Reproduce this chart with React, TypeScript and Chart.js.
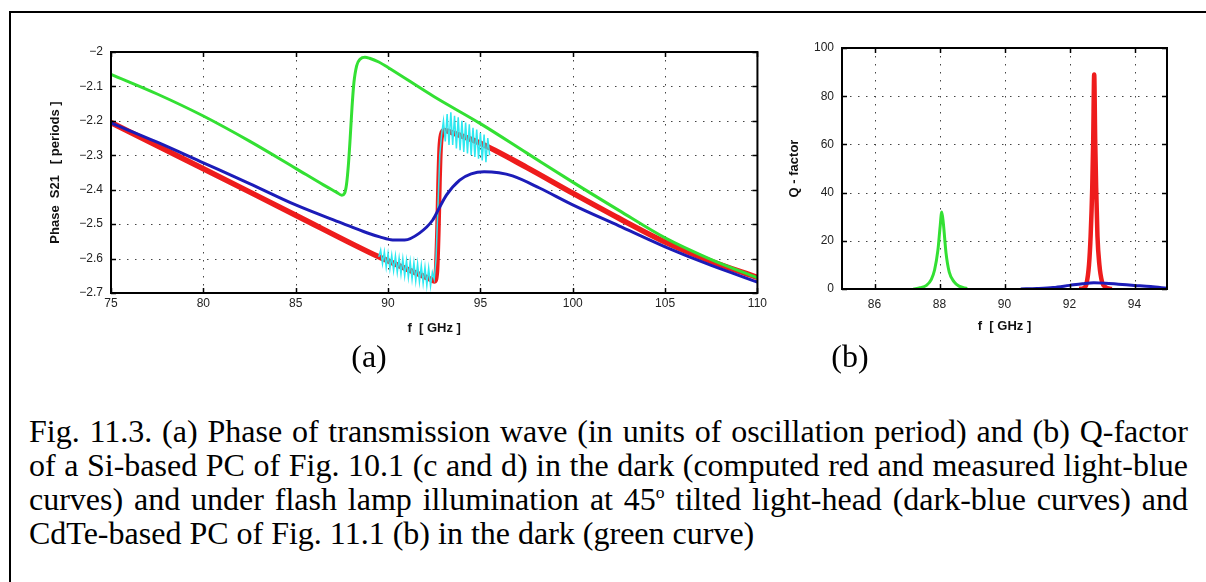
import React, { useEffect, useRef } from "react";
import { Chart, registerables } from "chart.js";
Chart.register(...registerables);

// ---------- Panel (a): phase of S21 ----------
const phaseXTicks = [75, 80, 85, 90, 95, 100, 105, 110];
const phaseYTicks = [-2, -2.1, -2.2, -2.3, -2.4, -2.5, -2.6, -2.7];

const greenPhaseF = [75, 77.5, 80, 82.5, 85, 86.5, 87.2, 87.5, 87.65, 87.75, 87.85, 87.95, 88.05, 88.15, 88.3, 88.5, 88.75, 89, 89.5, 90, 92.5, 95, 97.5, 100, 102.5, 105, 107.5, 110];
const greenPhase = [-2.065, -2.122, -2.186, -2.259, -2.338, -2.386, -2.407, -2.416, -2.41, -2.385, -2.33, -2.25, -2.16, -2.09, -2.04, -2.02, -2.015, -2.018, -2.029, -2.045, -2.13, -2.208, -2.293, -2.378, -2.46, -2.54, -2.603, -2.656];

const redPhaseF = [75, 80, 85, 89.5, 91, 92.3, 92.5, 92.62, 92.7, 92.76, 92.82, 92.9, 93.05, 93.5, 95, 97.5, 100, 102.5, 105, 107.5, 110];
const redPhase = [-2.205, -2.339, -2.474, -2.595, -2.63, -2.66, -2.665, -2.64, -2.52, -2.38, -2.28, -2.24, -2.228, -2.235, -2.265, -2.335, -2.41, -2.483, -2.552, -2.608, -2.655];

const bluePhaseF = [75, 77.5, 80, 82.5, 85, 87.5, 88.85, 89.55, 90.25, 90.9, 91.7, 92.42, 92.8, 93.17, 93.88, 94.5, 95.2, 96, 96.74, 98.2, 100, 102.5, 105, 107.5, 110];
const bluePhase = [-2.206, -2.262, -2.322, -2.382, -2.444, -2.497, -2.525, -2.537, -2.546, -2.546, -2.526, -2.488, -2.45, -2.415, -2.372, -2.354, -2.348, -2.351, -2.36, -2.395, -2.444, -2.505, -2.566, -2.62, -2.668];

const cyanPhaseF = [
  89.5, 89.6, 89.7, 89.8, 89.9, 90.0, 90.1, 90.2, 90.3, 90.4, 90.5, 90.6, 90.7, 90.8, 90.9, 91.0,
  91.1, 91.2, 91.3, 91.4, 91.5, 91.6, 91.7, 91.8, 91.9, 92.0, 92.1, 92.2, 92.3, 92.4, 92.5,
  92.6, 92.7, 92.8,
  92.9, 93.0, 93.1, 93.2, 93.3, 93.4, 93.5, 93.6, 93.7, 93.8, 93.9, 94.0, 94.1, 94.2, 94.3,
  94.4, 94.5, 94.6, 94.7, 94.8, 94.9, 95.0, 95.1, 95.2, 95.3, 95.4, 95.5,
];
const cyanPhase = [
  -2.595, -2.575, -2.615, -2.58, -2.625, -2.585, -2.63, -2.59, -2.635, -2.592, -2.64, -2.598, -2.645, -2.6, -2.65, -2.605,
  -2.655, -2.608, -2.66, -2.612, -2.665, -2.615, -2.668, -2.62, -2.672, -2.625, -2.678, -2.628, -2.68, -2.64, -2.66,
  -2.6, -2.45, -2.3,
  -2.24, -2.2, -2.26, -2.18, -2.27, -2.175, -2.27, -2.185, -2.28, -2.19, -2.285, -2.2, -2.29, -2.205, -2.295,
  -2.21, -2.3, -2.22, -2.305, -2.225, -2.31, -2.235, -2.315, -2.24, -2.32, -2.25, -2.3,
];

// ---------- Panel (b): Q-factor ----------
const qXTicks = [86, 88, 90, 92, 94];
const qYTicks = [0, 20, 40, 60, 80, 100];

const greenQF = [87.2, 87.4, 87.6, 87.75, 87.85, 87.95, 88.02, 88.07, 88.12, 88.2, 88.3, 88.45, 88.6, 88.85];
const greenQ = [0, 0.5, 1.5, 4, 8, 16, 26, 32, 27, 15, 7, 3, 1.2, 0.2];

const redQF = [92.3, 92.45, 92.52, 92.6, 92.65, 92.7, 92.73, 92.76, 92.79, 92.82, 92.86, 92.92, 93.0, 93.1, 93.3];
const redQ = [0, 0.5, 2, 10, 22, 42, 62, 89, 62, 42, 22, 10, 3, 0.8, 0];

const blueQF = [90.5, 91, 91.5, 92, 92.4, 92.75, 93.1, 93.5, 94, 94.5, 95];
const blueQ = [0, 0.2, 0.6, 1.5, 2.2, 2.6, 2.4, 2.0, 1.5, 1.0, 0.3];

const GREEN = "#33e033";
const RED = "#ee1c1c";
const BLUE = "#1c1cb8";
const CYAN = "#2ee8f0";

const tickFont = { family: "'Liberation Sans', Arial, sans-serif", size: 12 };
const titleFont = "bold 13px 'Liberation Sans', Arial, sans-serif";

function series(xs: number[], ys: number[], color: string, width: number, order: number, smooth = true) {
  return {
    data: xs.map((x, i) => ({ x, y: ys[i] })),
    borderColor: color,
    backgroundColor: color,
    borderWidth: width,
    pointRadius: 0,
    fill: false,
    order,
    cubicInterpolationMode: smooth ? "monotone" : "default",
    tension: smooth ? 0.4 : 0,
  } as any;
}

const framePlugin = {
  id: "frame",
  beforeDatasetsDraw(chart: any) {
    const { ctx, chartArea: a, scales } = chart;
    const x = scales.x, y = scales.y;
    ctx.save();
    ctx.strokeStyle = "#444";
    ctx.lineWidth = 1;
    ctx.setLineDash([1.5, 6.5]);
    x.ticks.forEach((t: any) => {
      const px = Math.round(x.getPixelForValue(t.value)) + 0.5;
      ctx.beginPath(); ctx.moveTo(px, a.top); ctx.lineTo(px, a.bottom); ctx.stroke();
    });
    y.ticks.forEach((t: any) => {
      const py = Math.round(y.getPixelForValue(t.value)) + 0.5;
      ctx.beginPath(); ctx.moveTo(a.left, py); ctx.lineTo(a.right, py); ctx.stroke();
    });
    ctx.restore();
  },
  afterDatasetsDraw(chart: any, _args: any, opts: any) {
    const { ctx, chartArea: a, scales } = chart;
    const x = scales.x, y = scales.y;
    ctx.save();
    ctx.strokeStyle = "#000";
    ctx.lineWidth = 2;
    ctx.setLineDash([]);
    ctx.strokeRect(a.left, a.top, a.right - a.left, a.bottom - a.top);
    ctx.lineWidth = 1.5;
    const tl = 5;
    x.ticks.forEach((t: any) => {
      const px = Math.round(x.getPixelForValue(t.value)) + 0.5;
      ctx.beginPath();
      ctx.moveTo(px, a.bottom); ctx.lineTo(px, a.bottom - tl);
      ctx.moveTo(px, a.top); ctx.lineTo(px, a.top + tl);
      ctx.stroke();
    });
    y.ticks.forEach((t: any) => {
      const py = Math.round(y.getPixelForValue(t.value)) + 0.5;
      ctx.beginPath();
      ctx.moveTo(a.left, py); ctx.lineTo(a.left + tl, py);
      ctx.moveTo(a.right, py); ctx.lineTo(a.right - tl, py);
      ctx.stroke();
    });
    ctx.fillStyle = "#111";
    ctx.font = titleFont;
    ctx.textAlign = "center";
    ctx.textBaseline = "middle";
    ctx.fillText(opts.xTitle, (a.left + a.right) / 2, opts.xTitleY);
    ctx.translate(opts.yTitleX, (a.top + a.bottom) / 2);
    ctx.rotate(-Math.PI / 2);
    ctx.fillText(opts.yTitle, 0, 0);
    ctx.restore();
  },
};

function makeConfig(p: {
  datasets: any[]; xMin: number; xMax: number; yMin: number; yMax: number;
  xTicks: number[]; yTicks: number[]; yAxisW: number; xAxisH: number;
  padTop: number; padRight: number; yPad: number; xPad: number;
  xTitle: string; yTitle: string; xTitleY: number; yTitleX: number;
  fmtY: (v: number) => string;
}) {
  return {
    type: "line",
    data: { datasets: p.datasets },
    plugins: [framePlugin],
    options: {
      animation: false,
      responsive: false,
      devicePixelRatio: 1,
      layout: { padding: { left: 0, top: p.padTop, right: p.padRight, bottom: 0 } },
      plugins: {
        legend: { display: false },
        tooltip: { enabled: false },
        frame: { xTitle: p.xTitle, yTitle: p.yTitle, xTitleY: p.xTitleY, yTitleX: p.yTitleX },
      },
      scales: {
        x: {
          type: "linear",
          min: p.xMin,
          max: p.xMax,
          afterBuildTicks: (s: any) => { s.ticks = p.xTicks.map((v) => ({ value: v })); },
          afterFit: (s: any) => { s.height = p.xAxisH; },
          grid: { display: false, drawTicks: false },
          border: { display: false },
          ticks: { font: tickFont, color: "#222", padding: p.xPad, maxRotation: 0, autoSkip: false, callback: (v: any) => String(v) },
        },
        y: {
          type: "linear",
          min: p.yMin,
          max: p.yMax,
          afterBuildTicks: (s: any) => { s.ticks = p.yTicks.map((v) => ({ value: v })); },
          afterFit: (s: any) => { s.width = p.yAxisW; },
          grid: { display: false, drawTicks: false },
          border: { display: false },
          ticks: { font: tickFont, color: "#222", padding: p.yPad, autoSkip: false, callback: (v: any) => p.fmtY(Number(v)) },
        },
      },
    },
  } as any;
}

export default function App() {
  const leftRef = useRef<HTMLCanvasElement>(null);
  const rightRef = useRef<HTMLCanvasElement>(null);

  useEffect(() => {
    const c1 = new Chart(leftRef.current as HTMLCanvasElement, makeConfig({
      datasets: [
        series(greenPhaseF, greenPhase, GREEN, 3, 0),
        series(bluePhaseF, bluePhase, BLUE, 3, 1),
        series(cyanPhaseF, cyanPhase, CYAN, 1.5, 2, false),
        series(redPhaseF, redPhase, RED, 5.5, 3),
      ],
      xMin: 75, xMax: 110, yMin: -2.7, yMax: -2,
      xTicks: phaseXTicks, yTicks: phaseYTicks,
      yAxisW: 111, xAxisH: 52, padTop: 52, padRight: 12, yPad: 8, xPad: 3,
      xTitle: "f  [ GHz ]", yTitle: "Phase  S21   [ periods ]", xTitleY: 328, yTitleX: 55,
      fmtY: (v) => String(Number(v.toFixed(1))).replace("-", "\u2212"),
    }));
    const c2 = new Chart(rightRef.current as HTMLCanvasElement, makeConfig({
      datasets: [
        series(blueQF, blueQ, BLUE, 3, 0),
        series(greenQF, greenQ, GREEN, 3, 1),
        series(redQF, redQ, RED, 4.5, 2),
      ],
      xMin: 85, xMax: 95, yMin: 0, yMax: 100,
      xTicks: qXTicks, yTicks: qYTicks,
      yAxisW: 72, xAxisH: 56, padTop: 48, padRight: 39, yPad: 8, xPad: 8,
      xTitle: "f  [ GHz ]", yTitle: "Q - factor", xTitleY: 326, yTitleX: 24,
      fmtY: (v) => String(v),
    }));
    return () => { c1.destroy(); c2.destroy(); };
  }, []);

  const serif = "'Liberation Serif', 'Times New Roman', serif";
  const lineStyle: React.CSSProperties = {
    position: "absolute", left: 29, width: 1159, height: 34, lineHeight: "34px",
    fontFamily: serif, fontSize: 32, color: "#000", textAlign: "justify",
    textAlignLast: "justify" as any, whiteSpace: "normal",
  };

  return (
    <div style={{ position: "absolute", left: 0, top: 0, width: 1206, height: 582, overflow: "hidden", background: "#fff" }}>
      <div style={{ position: "absolute", left: 9, top: 11, width: 1400, height: 800, borderLeft: "2px solid #000", borderTop: "2px solid #000" }} />
      <canvas ref={leftRef} width={770} height={345} style={{ position: "absolute", left: 0, top: 0 }} />
      <canvas ref={rightRef} width={436} height={345} style={{ position: "absolute", left: 770, top: 0 }} />
      <div style={{ position: "absolute", left: 319, top: 340, width: 100, textAlign: "center", fontFamily: serif, fontSize: 32, lineHeight: "32px" }}>(a)</div>
      <div style={{ position: "absolute", left: 800, top: 340, width: 100, textAlign: "center", fontFamily: serif, fontSize: 32, lineHeight: "32px" }}>(b)</div>
      <div style={{ ...lineStyle, top: 414 }}>Fig. 11.3. (a) Phase of transmission wave (in units of oscillation period) and (b) Q-factor</div>
      <div style={{ ...lineStyle, top: 448 }}>of a Si-based PC of Fig. 10.1 (c and d) in the dark (computed red and measured light-blue</div>
      <div style={{ ...lineStyle, top: 482 }}>curves) and under flash lamp illumination at 45<sup style={{ fontSize: "55%", verticalAlign: "0.7em", lineHeight: 0 }}>o</sup> tilted light-head (dark-blue curves) and</div>
      <div style={{ ...lineStyle, top: 516, textAlign: "left", textAlignLast: "left" as any }}>CdTe-based PC of Fig. 11.1 (b) in the dark (green curve)</div>
    </div>
  );
}
